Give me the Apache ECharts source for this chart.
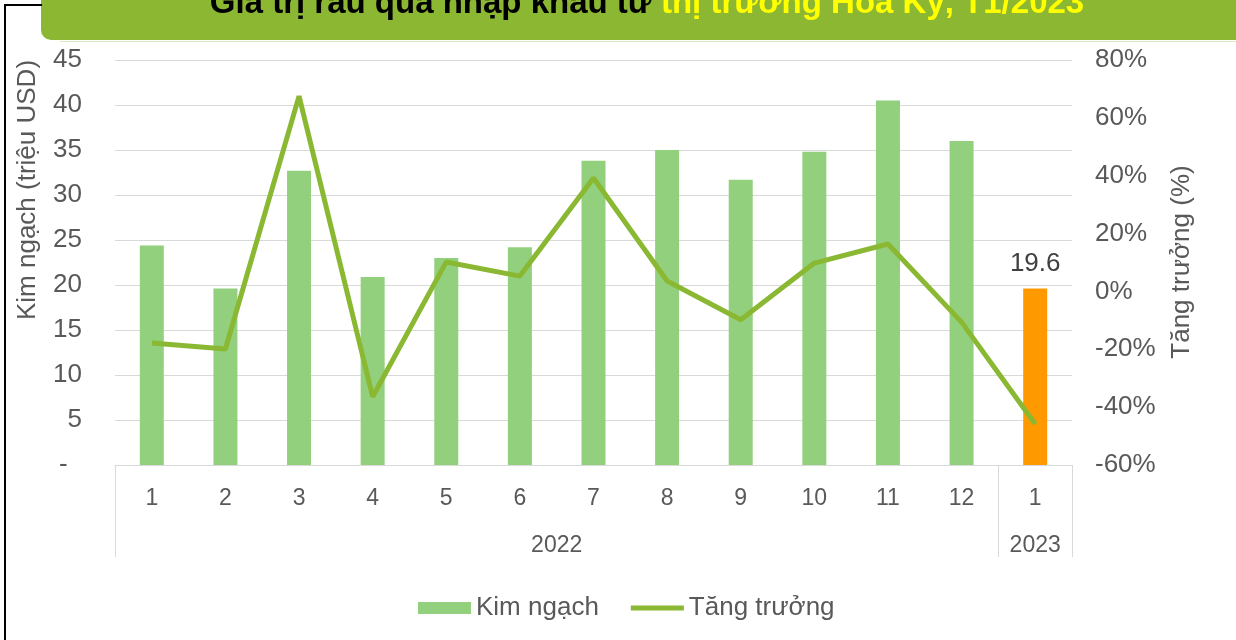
<!DOCTYPE html>
<html>
<head>
<meta charset="utf-8">
<script src="https://cdn.jsdelivr.net/npm/echarts@6/dist/echarts.min.js"></script>
<style>
  html, body { margin: 0; padding: 0; background: #fff; }
  #chart { width: 1236px; height: 640px; }
</style>
</head>
<body>
<div id="chart"></div>
<script>
// thang / nam
var months = ['1', '2', '3', '4', '5', '6', '7', '8', '9', '10', '11', '12', '1'];
var years = ['2022', '2023'];
var monthsPerYear = [12, 1];

// kim ngach (trieu USD) va tang truong (%)
var kimNgach = [24.4, 19.6, 32.7, 20.9, 23.0, 24.2, 33.8, 35.0, 31.7, 34.8, 40.5, 36.0, 19.6];
var tangTruong = [-17.8, -19.9, 67.5, -36.4, 10.2, 5.3, 39.2, 3.6, -9.8, 9.8, 16.4, -10.6, -45.8];

var textColor = '#595959';
var gridColor = '#D9D9D9';
var font = 'Liberation Sans, Arial, sans-serif';

// ranh gioi nam va vi tri nhan nam tren truc phu
var yearBounds = [0];
var yearCenters = [];
monthsPerYear.forEach(function (n) {
  var start = yearBounds[yearBounds.length - 1];
  yearBounds.push(start + n);
  yearCenters.push(start + n / 2);
});

var barData = kimNgach.map(function (v, i) {
  if (i === kimNgach.length - 1) {
    return {
      value: v,
      itemStyle: { color: '#FF9900' },
      label: { show: true, position: 'top', distance: 12, color: '#404040', fontSize: 26, fontFamily: font }
    };
  }
  return v;
});

// bieu tuong duong ke trong chu giai (day 5px), khung 53x12
var lineIcon = 'path://M0,0L0.01,0L0,0ZM0,12L0.01,12L0,12ZM0,3.5L53,3.5L53,8.5L0,8.5Z';

var myChart = echarts.init(document.getElementById('chart'));
myChart.setOption({
  animation: false,
  grid: { left: 115, right: 164, top: 60, bottom: 175 },
  graphic: [
    { type: 'rect', shape: { x: 41, y: -10, width: 1220, height: 50, r: [0, 0, 0, 10] }, style: { fill: '#8CB733' } },
    { type: 'line', shape: { x1: 60, y1: 41.5, x2: 1236, y2: 41.5 }, style: { stroke: '#DDEBC4', lineWidth: 1 } },
    { type: 'polyline', shape: { points: [[42, 5], [5, 5], [5, 640]] }, style: { stroke: '#000', lineWidth: 2, fill: null } },
    {
      type: 'text', x: 647, y: 4,
      style: {
        text: '{a|Giá trị rau quả nhập khẩu từ }{b|thị trường Hoa Kỳ, T1/2023}',
        align: 'center', verticalAlign: 'middle',
        rich: {
          a: { fill: '#000', fontSize: 33, fontWeight: 'bold', fontFamily: 'Liberation Sans Narrow, Arial Narrow, sans-serif' },
          b: { fill: '#FFFF00', fontSize: 33, fontWeight: 'bold', fontFamily: 'Liberation Sans Narrow, Arial Narrow, sans-serif' }
        }
      }
    },
    {
      type: 'text', x: 28, y: 190, rotation: Math.PI / 2,
      style: { text: 'Kim ngạch (triệu USD)', align: 'center', verticalAlign: 'middle', fill: textColor, fontSize: 26, fontFamily: font }
    },
    {
      type: 'text', x: 1182, y: 262, rotation: Math.PI / 2,
      style: { text: 'Tăng trưởng (%)', align: 'center', verticalAlign: 'middle', fill: textColor, fontSize: 26, fontFamily: font }
    }
  ],
  legend: {
    bottom: 14,
    left: 413,
    itemWidth: 53,
    itemHeight: 12,
    itemGap: 32,
    textStyle: { color: textColor, fontSize: 26, fontFamily: font },
    data: [
      { name: 'Kim ngạch', icon: 'rect' },
      { name: 'Tăng trưởng', icon: lineIcon }
    ]
  },
  xAxis: [
    {
      type: 'category',
      data: months,
      axisLine: { onZero: false, lineStyle: { color: gridColor, width: 1 } },
      axisTick: { show: false },
      axisLabel: { color: textColor, fontSize: 23, fontFamily: font, margin: 22 }
    },
    {
      type: 'value',
      position: 'bottom',
      min: 0,
      max: months.length,
      axisLine: { show: false, onZero: false },
      splitLine: { show: false },
      axisTick: { show: true, length: 92, customValues: yearBounds, lineStyle: { color: gridColor, width: 1 } },
      axisLabel: {
        customValues: yearCenters,
        color: textColor, fontSize: 23, fontFamily: font, margin: 69,
        formatter: function (v) { return years[yearCenters.indexOf(v)]; }
      }
    }
  ],
  yAxis: [
    {
      type: 'value',
      min: 0, max: 45, interval: 5,
      axisLine: { show: false },
      axisTick: { show: false },
      splitLine: { lineStyle: { color: gridColor, width: 1 } },
      axisLabel: {
        color: textColor, fontSize: 26, fontFamily: font, margin: 33,
        formatter: function (v) { return v === 0 ? '-  ' : v; }
      }
    },
    {
      type: 'value',
      min: -60, max: 80, interval: 20,
      axisLine: { show: false },
      axisTick: { show: false },
      splitLine: { show: false },
      axisLabel: {
        color: textColor, fontSize: 26, fontFamily: font, margin: 23,
        formatter: function (v) { return v + '%'; }
      }
    }
  ],
  series: [
    {
      name: 'Kim ngạch',
      type: 'bar',
      xAxisIndex: 0,
      yAxisIndex: 0,
      barWidth: 24,
      itemStyle: { color: '#92D07E' },
      data: barData
    },
    {
      name: 'Tăng trưởng',
      type: 'line',
      xAxisIndex: 0,
      yAxisIndex: 1,
      symbol: 'none',
      lineStyle: { color: '#8AB832', width: 5 },
      itemStyle: { color: '#8AB832' },
      data: tangTruong
    }
  ]
});
</script>
</body>
</html>
